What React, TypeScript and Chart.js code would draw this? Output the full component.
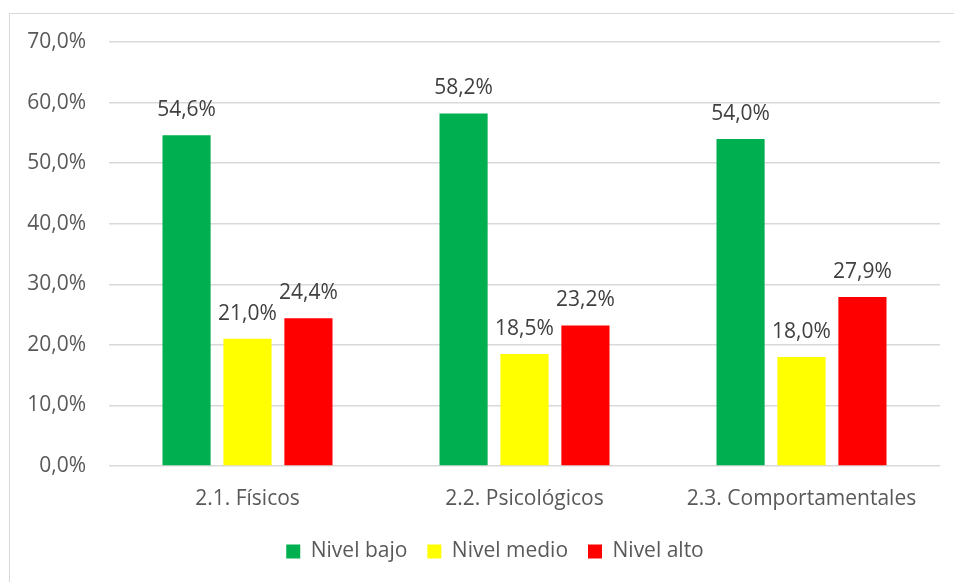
import React, { useEffect, useRef } from "react";
import { Chart, registerables } from "chart.js";

Chart.register(...registerables);

const categories = ["2.1. Físicos", "2.2. Psicológicos", "2.3. Comportamentales"];
const seriesNames = ["Nivel bajo", "Nivel medio", "Nivel alto"];
const nivelBajo = [54.6, 58.2, 54.0];
const nivelMedio = [21.0, 18.5, 18.0];
const nivelAlto = [24.4, 23.2, 27.9];
const seriesColors = ["#00B050", "#FFFF00", "#FF0000"];
const yMin = 0;
const yMax = 70;
const yStep = 10;

const FONT = "'Open Sans', 'Noto Sans', sans-serif";
const FS = 21;

const fmt = (v: number) => v.toFixed(1).replace(".", ",") + "%";

const dataLabelPlugin = {
  id: "dataLabels",
  afterDatasetsDraw(chart: any) {
    const ctx = chart.ctx;
    ctx.save();
    ctx.font = `${FS}px ${FONT}`;
    ctx.fillStyle = "#404040";
    ctx.textAlign = "center";
    ctx.textBaseline = "middle";
    chart.data.datasets.forEach((ds: any, i: number) => {
      const meta = chart.getDatasetMeta(i);
      meta.data.forEach((bar: any, j: number) => {
        ctx.fillText(fmt(ds.data[j]), bar.x, bar.y - 25);
      });
    });
    ctx.restore();
  },
};

// the reference legend is centred on the whole (wider) chart frame
const legendShiftPlugin = {
  id: "legendShift",
  afterLayout(chart: any) {
    if (chart.legend) {
      chart.legend.left += 25;
      chart.legend.right += 25;
    }
  },
};

export default function App() {
  const ref = useRef<HTMLCanvasElement>(null);
  useEffect(() => {
    if (!ref.current) return;
    const values = [nivelBajo, nivelMedio, nivelAlto];
    const chart = new Chart(ref.current, {
      type: "bar",
      data: {
        labels: categories,
        datasets: seriesNames.map((name, i) => ({
          label: name,
          data: values[i],
          backgroundColor: seriesColors[i],
          borderWidth: 0,
          categoryPercentage: 0.66,
          barPercentage: 0.79,
        })),
      },
      options: {
        animation: false,
        responsive: false,
        maintainAspectRatio: false,
        layout: { padding: { left: 0, right: 14, top: 42, bottom: 10 } },
        plugins: {
          tooltip: { enabled: false },
          legend: {
            position: "bottom",
            labels: {
              boxWidth: 14,
              boxHeight: 14,
              padding: 20,
              color: "#595959",
              font: { family: FONT, size: FS },
            },
          },
        },
        scales: {
          x: {
            grid: { display: false, drawTicks: false },
            border: { display: false },
            afterFit: (scale: any) => {
              scale.height = 55;
            },
            ticks: {
              color: "#595959",
              padding: 20,
              font: { family: FONT, size: FS },
            },
          },
          y: {
            min: yMin,
            max: yMax,
            afterFit: (scale: any) => {
              scale.width = 109;
            },
            grid: { color: "#D9D9D9", lineWidth: 1.5, drawTicks: false },
            border: { display: false },
            ticks: {
              stepSize: yStep,
              color: "#595959",
              padding: 23,
              font: { family: FONT, size: FS },
              callback: (v: any) => fmt(Number(v)),
            },
          },
        },
      } as any,
      plugins: [dataLabelPlugin, legendShiftPlugin],
    });
    return () => chart.destroy();
  }, []);

  return (
    <div
      style={{
        position: "absolute",
        left: 0,
        top: 0,
        width: 954,
        height: 582,
        background: "#fff",
        overflow: "hidden",
      }}
    >
      <div
        style={{
          position: "absolute",
          left: 9,
          top: 13,
          width: 1000,
          height: 700,
          border: "1.5px solid #D9D9D9",
          boxSizing: "border-box",
        }}
      />
      <canvas
        ref={ref}
        width={954}
        height={582}
        style={{ position: "absolute", left: 0, top: 0, width: 954, height: 582 }}
      />
    </div>
  );
}
